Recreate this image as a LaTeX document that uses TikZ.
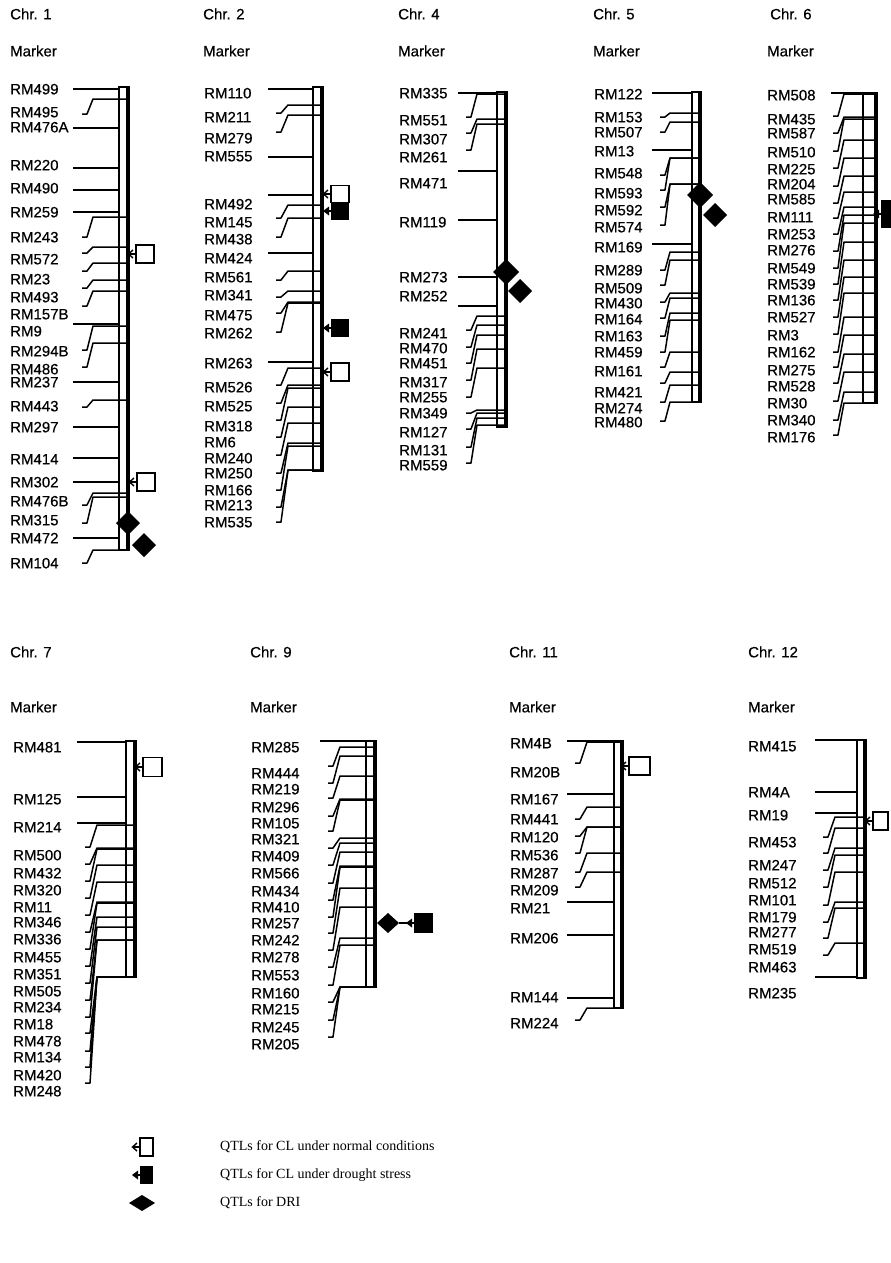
\documentclass[tikz,border=0pt]{standalone}
\usepackage{fontspec}
\newfontfamily\sansf[FakeBold=0.5]{Liberation Sans}
\newfontfamily\serf{Liberation Serif}
\newcommand\labfont{\sansf\fontsize{15}{15}\selectfont}
\newcommand\legfont{\serf\fontsize{14}{14}\selectfont}
\def\cLX{0}\def\cSX{0}\def\cTX{0}\def\cKX{0}\def\cBL{0}\def\cBR{0}
\newcommand\chrset[6]{\def\cLX{#1}\def\cSX{#2}\def\cTX{#3}\def\cKX{#4}\def\cBL{#5}\def\cBR{#6}}
\tikzset{
  lab/.style={anchor=west,inner sep=0pt,font=\labfont,text height=10.7pt,text depth=0pt},
  leg/.style={anchor=west,inner sep=0pt,font=\legfont},
  mk/.style={line width=1.5pt,line join=round},
  qs/.style={line width=1.4pt,line join=miter}
}
\newcommand\mS[3]{\node[lab] (#1) at (\cLX,#2) {#1};\draw[mk] (\cSX,#3) -- (\cBL,#3);}
\newcommand\mB[4]{\node[lab] (#1) at (\cLX,#2) {#1};\draw[mk] (\cTX,#3) -- ++(5,0) -- (\cKX,#4) -- (\cBR,#4);}
\newcommand\chrbar[4]{\draw[line width=1.5pt] (#1,#3) rectangle (#2,#4);\draw[line width=3.4pt] (#2,#3-0.7) -- (#2,#4+0.7);}
\newcommand\qopen[4]{\draw[qs,fill=white] (#1,#2-#4/2) rectangle ++(#3,#4);\draw[qs] (#1,#2) -- ++(-7,0);\draw[qs] (#1-3,#2-4) -- (#1-7.5,#2) -- (#1-3,#2+4);}
\newcommand\qfill[4]{\fill (#1,#2-#4/2) rectangle ++(#3,#4);\draw[qs] (#1,#2) -- ++(-7,0);\fill (#1-2,#2-4.5) -- (#1-8,#2) -- (#1-2,#2+4.5) -- cycle;}
\newcommand\qdia[4]{\fill (#1-#3,#2) -- (#1,#2-#4) -- (#1+#3,#2) -- (#1,#2+#4) -- cycle;}
\begin{document}
\begin{tikzpicture}[x=1pt,y=-1pt]
\useasboundingbox (0,0) rectangle (891,1263);
\clip (0,0) rectangle (891,1263);
% titles
\node[lab] (t1) at (10,14) {Chr. 1};   \node[lab] (h1) at (10,51) {Marker};
\node[lab] (t2) at (203,14) {Chr. 2};  \node[lab] (h2) at (203,51) {Marker};
\node[lab] (t4) at (398,14) {Chr. 4};  \node[lab] (h4) at (398,51) {Marker};
\node[lab] (t5) at (593,14) {Chr. 5};  \node[lab] (h5) at (593,51) {Marker};
\node[lab] (t6) at (770,14) {Chr. 6};  \node[lab] (h6) at (767,51) {Marker};
\node[lab] (t7) at (10,652) {Chr. 7};  \node[lab] (h7) at (10,707) {Marker};
\node[lab] (t9) at (250,652) {Chr. 9}; \node[lab] (h9) at (250,707) {Marker};
\node[lab] (t11) at (509,652) {Chr. 11}; \node[lab] (h11) at (509,707) {Marker};
\node[lab] (t12) at (748,652) {Chr. 12}; \node[lab] (h12) at (748,707) {Marker};
% ---------- Chr 1
\chrbar{119}{128}{87}{550}
\chrset{10}{73}{82}{93}{119}{128}
\mS{RM499}{89}{89}
\mB{RM495}{112}{114}{99}
\mS{RM476A}{127}{128}
\mS{RM220}{165}{168}
\mS{RM490}{188}{190}
\mS{RM259}{212}{212}
\mB{RM243}{237}{237}{217}
\mB{RM572}{259}{253}{247}
\mB{RM23}{279}{271}{263}
\mB{RM493}{297}{288}{280}
\mB{RM157B}{314}{306}{291}
\mS{RM9}{331}{324}
\mB{RM294B}{351}{350}{326}
\mB{RM486}{369}{367}{343}
\mS{RM237}{382}{382}
\mB{RM443}{406}{407}{400}
\mS{RM297}{427}{427}
\mS{RM414}{459}{458}
\mS{RM302}{482}{482}
\mB{RM476B}{501}{505}{493}
\mB{RM315}{520}{523}{497}
\mS{RM472}{538}{538}
\mB{RM104}{563}{563}{550}
\qopen{136}{254}{18}{18}
\qopen{137}{482}{18}{18}
\qdia{128}{523}{12}{12}
\qdia{144}{545}{12}{12}
% ---------- Chr 2
\chrbar{313}{322}{87}{471}
\chrset{204}{268}{276}{288}{313}{322}
\mS{RM110}{93}{89}
\mB{RM211}{117}{113}{105}
\mB{RM279}{138}{132}{115}
\mS{RM555}{156}{157}
\mS{RM492}{204}{195}
\mB{RM145}{222}{218}{205}
\mB{RM438}{239}{237}{218}
\mS{RM424}{258}{253}
\mB{RM561}{277}{280}{271}
\mB{RM341}{295}{297}{291}
\mB{RM475}{315}{313}{302}
\mB{RM262}{333}{332}{303}
\mS{RM263}{363}{362}
\mB{RM526}{387}{385}{368}
\mB{RM525}{406}{403}{385}
\mB{RM318}{426}{420}{388}
\mB{RM6}{442}{437}{407}
\mB{RM240}{458}{455}{423}
\mB{RM250}{473}{473}{443}
\mB{RM166}{490}{490}{446}
\mB{RM213}{505}{507}{470}
\mB{RM535}{522}{522}{470}
\qopen{331}{194}{18}{17}
\qfill{331}{211}{18}{17}
\qfill{331}{328}{18}{18}
\qopen{331}{372}{18}{18}
% ---------- Chr 4
\chrbar{497}{506}{92}{427}
\chrset{399}{458}{466}{477}{497}{506}
\mS{RM335}{93}{93}
\mB{RM551}{120}{117}{94}
\mB{RM307}{139}{133}{119}
\mB{RM261}{157}{150}{124}
\mS{RM471}{183}{171}
\mS{RM119}{222}{220}
\mS{RM273}{277}{277}
\mS{RM252}{296}{306}
\mB{RM241}{333}{330}{316}
\mB{RM470}{348}{347}{325}
\mB{RM451}{363}{363}{335}
\mB{RM317}{382}{380}{349}
\mB{RM255}{397}{397}{368}
\mB{RM349}{413}{413}{410}
\mB{RM127}{432}{429}{413}
\mB{RM131}{450}{447}{418}
\mB{RM559}{465}{463}{425}
\qdia{506}{272}{13}{13}
\qdia{520}{291}{12}{12}
% ---------- Chr 5
\chrbar{692}{700}{92}{402}
\chrset{594}{652}{660}{670}{692}{700}
\mS{RM122}{94}{93}
\mB{RM153}{117}{117}{113}
\mB{RM507}{132}{132}{122}
\mS{RM13}{151}{150}
\mB{RM548}{173}{175}{158}
\mB{RM593}{193}{190}{158}
\mB{RM592}{210}{207}{184}
\mB{RM574}{227}{225}{184}
\mS{RM169}{247}{244}
\mB{RM289}{270}{270}{252}
\mB{RM509}{288}{285}{260}
\mB{RM430}{303}{302}{293}
\mB{RM164}{319}{318}{298}
\mB{RM163}{336}{336}{313}
\mB{RM459}{352}{352}{320}
\mB{RM161}{371}{367}{352}
\mB{RM421}{392}{383}{372}
\mB{RM274}{408}{402}{385}
\mB{RM480}{422}{421}{402}
\qdia{700}{195}{13}{13}
\qdia{715}{215}{12}{12}
% ---------- Chr 6
\chrbar{863}{876}{93}{403}
\chrset{767}{831}{833}{844}{863}{876}
\mS{RM508}{95}{93}
\mB{RM435}{119}{116}{94}
\mB{RM587}{133}{133}{117}
\mB{RM510}{152}{151}{119}
\mB{RM225}{169}{168}{140}
\mB{RM204}{184}{186}{158}
\mB{RM585}{199}{203}{176}
\mB{RM111}{217}{218}{192}
\mB{RM253}{234}{234}{207}
\mB{RM276}{250}{251}{215}
\mB{RM549}{268}{268}{223}
\mB{RM539}{284}{284}{242}
\mB{RM136}{300}{300}{260}
\mB{RM527}{317}{317}{277}
\mB{RM3}{335}{334}{293}
\mB{RM162}{352}{352}{317}
\mB{RM275}{370}{367}{335}
\mB{RM528}{386}{383}{354}
\mB{RM30}{403}{401}{372}
\mB{RM340}{420}{420}{392}
\mB{RM176}{437}{435}{403}
\qfill{881}{214}{18}{28}
% ---------- Chr 7
\chrbar{126}{135}{741}{977}
\chrset{13}{77}{85}{97}{126}{135}
\mS{RM481}{747}{742}
\mS{RM125}{799}{797}
\mS{RM214}{827}{823}
\mB{RM500}{855}{847}{825}
\mB{RM432}{873}{864}{848}
\mB{RM320}{890}{881}{849}
\mB{RM11}{907}{898}{865}
\mB{RM346}{922}{915}{882}
\mB{RM336}{939}{932}{902}
\mB{RM455}{957}{949}{903}
\mB{RM351}{974}{966}{917}
\mB{RM505}{991}{983}{927}
\mB{RM234}{1007}{1000}{940}
\mB{RM18}{1024}{1017}{940}
\mB{RM478}{1041}{1033}{977}
\mB{RM134}{1057}{1051}{977}
\mB{RM420}{1075}{1067}{977}
\mB{RM248}{1091}{1083}{977}
\qopen{143}{767}{19}{19}
% ---------- Chr 9
\chrbar{366}{375}{741}{987}
\chrset{251}{320}{328}{340}{366}{375}
\mS{RM285}{747}{741}
\mB{RM444}{773}{766}{747}
\mB{RM219}{789}{783}{756}
\mB{RM296}{807}{798}{776}
\mB{RM105}{823}{816}{799}
\mB{RM321}{839}{831}{800}
\mB{RM409}{856}{848}{838}
\mB{RM566}{873}{865}{843}
\mB{RM434}{891}{883}{852}
\mB{RM410}{907}{900}{866}
\mB{RM257}{923}{917}{867}
\mB{RM242}{940}{933}{888}
\mB{RM278}{957}{950}{907}
\mB{RM553}{975}{967}{938}
\mB{RM160}{993}{985}{945}
\mB{RM215}{1009}{1002}{987}
\mB{RM245}{1027}{1020}{987}
\mB{RM205}{1044}{1037}{987}
\draw[qs] (399,923) -- (414,923);
\qdia{388}{923}{11}{10}
\qfill{414}{923}{19}{20}
% ---------- Chr 11
\chrbar{614}{622}{741}{1008}
\chrset{510}{567}{575}{587}{614}{622}
\mS{RM4B}{743}{741}
\mB{RM20B}{772}{763}{742}
\mS{RM167}{799}{794}
\mB{RM441}{819}{819}{807}
\mB{RM120}{837}{836}{827}
\mB{RM536}{855}{853}{827}
\mB{RM287}{873}{872}{853}
\mB{RM209}{890}{887}{872}
\mS{RM21}{908}{902}
\mS{RM206}{938}{935}
\mS{RM144}{997}{998}
\mB{RM224}{1023}{1020}{1008}
\qopen{629}{766}{21}{18}
% ---------- Chr 12
\chrbar{857}{865}{740}{978}
\chrset{748}{815}{823}{835}{857}{865}
\mS{RM415}{746}{740}
\mS{RM4A}{792}{792}
\mS{RM19}{815}{813}
\mB{RM453}{842}{837}{817}
\mB{RM247}{865}{853}{828}
\mB{RM512}{883}{870}{848}
\mB{RM101}{900}{887}{855}
\mB{RM179}{917}{905}{872}
\mB{RM277}{932}{922}{902}
\mB{RM519}{949}{938}{908}
\mB{RM463}{967}{955}{943}
\mS{RM235}{993}{977}
\qopen{873}{821}{15}{18}
% ---------- legend
\qopen{140}{1147}{13}{18}
\qfill{140}{1175}{13}{18}
\qdia{142}{1203}{13}{8}
\node[leg] (l1) at (220,1147) {QTLs for CL under normal conditions};
\node[leg] (l2) at (220,1175) {QTLs for CL under drought stress};
\node[leg] (l3) at (220,1203) {QTLs for DRI};
\end{tikzpicture}
\end{document}
